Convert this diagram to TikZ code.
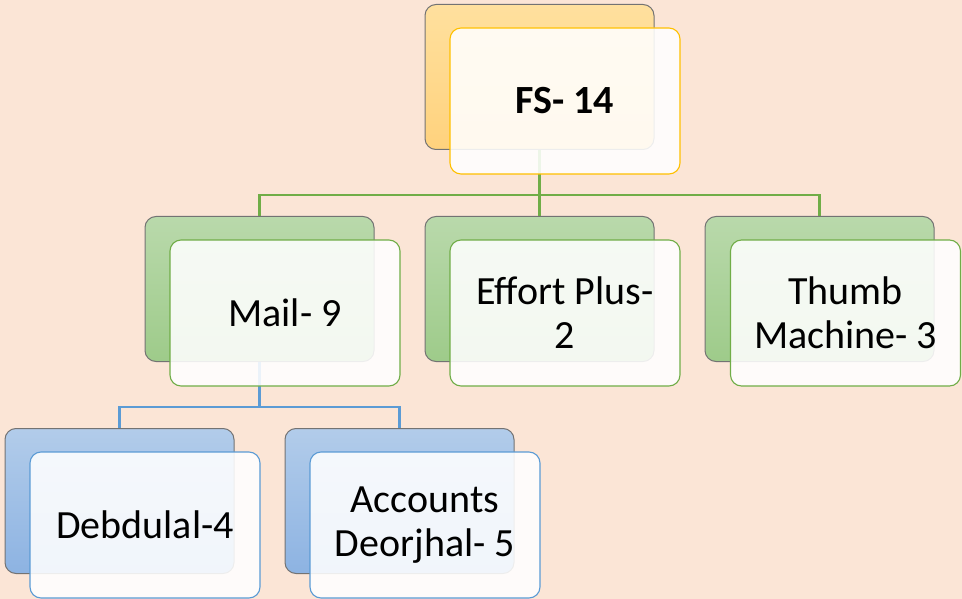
\documentclass[tikz,border=0pt]{standalone}
\usepackage{fontspec}
\setmainfont{Carlito}
\definecolor{bgc}{HTML}{FBE5D6}
\definecolor{orTop}{HTML}{FFE09E}
\definecolor{orBot}{HTML}{FFD27D}
\definecolor{grTop}{HTML}{B9D9AB}
\definecolor{grBot}{HTML}{9ECB8A}
\definecolor{blTop}{HTML}{B2CCEA}
\definecolor{blBot}{HTML}{8DB3E2}
\definecolor{gold}{HTML}{FFC000}
\definecolor{grLine}{HTML}{70AD47}
\definecolor{blLine}{HTML}{5B9BD5}
\tikzset{
  backbox/.style={draw=black!55, line width=1pt, rounded corners=11pt,
    minimum width=229pt, minimum height=145pt, inner sep=0pt},
  frontbox/.style={fill=white, fill opacity=0.88, text opacity=1, line width=1.1pt,
    rounded corners=11pt, minimum width=230pt, minimum height=146pt, inner sep=0pt,
    align=center, font=\fontsize{40}{44}\selectfont},
  conn/.style={line width=2.6pt}
}
\begin{document}
\begin{tikzpicture}[x=1pt,y=-1pt]
\useasboundingbox (0,0) rectangle (962,599);
\fill[bgc] (0,0) rectangle (962,599);
% back boxes
\node[backbox, top color=orTop, bottom color=orBot] (topB) at (539.5,77) {};
\node[backbox, top color=grTop, bottom color=grBot] (mailB) at (259.5,289) {};
\node[backbox, top color=grTop, bottom color=grBot] (effB) at (539.5,289) {};
\node[backbox, top color=grTop, bottom color=grBot] (thumbB) at (819.5,289) {};
\node[backbox, top color=blTop, bottom color=blBot] (debB) at (119.5,501) {};
\node[backbox, top color=blTop, bottom color=blBot] (accB) at (399.5,501) {};
% connectors
\coordinate (j1) at (539.5,195);
\coordinate (j2) at (259.5,407);
\draw[conn, grLine] (topB.south) -- (j1) -| (mailB.north);
\draw[conn, grLine] (j1) -| (thumbB.north);
\draw[conn, grLine] (j1) -- (effB.north);
\draw[conn, blLine] (mailB.south) -- (j2) -| (debB.north);
\draw[conn, blLine] (j2) -| (accB.north);
% front boxes
\node[frontbox, draw=gold] (topF) at (565,101) {\textbf{FS- 14}};
\node[frontbox, draw=grLine] (mailF) at (285,313) {Mail- 9};
\node[frontbox, draw=grLine] (effF) at (565,313) {Effort Plus-\\2};
\node[frontbox, draw=grLine] (thumbF) at (845.5,313) {Thumb\\Machine- 3};
\node[frontbox, draw=blLine] (debF) at (145,525) {Debdulal-4};
\node[frontbox, draw=blLine] (accF) at (425,525) {Accounts\\Deorjhal- 5};
\end{tikzpicture}
\end{document}
